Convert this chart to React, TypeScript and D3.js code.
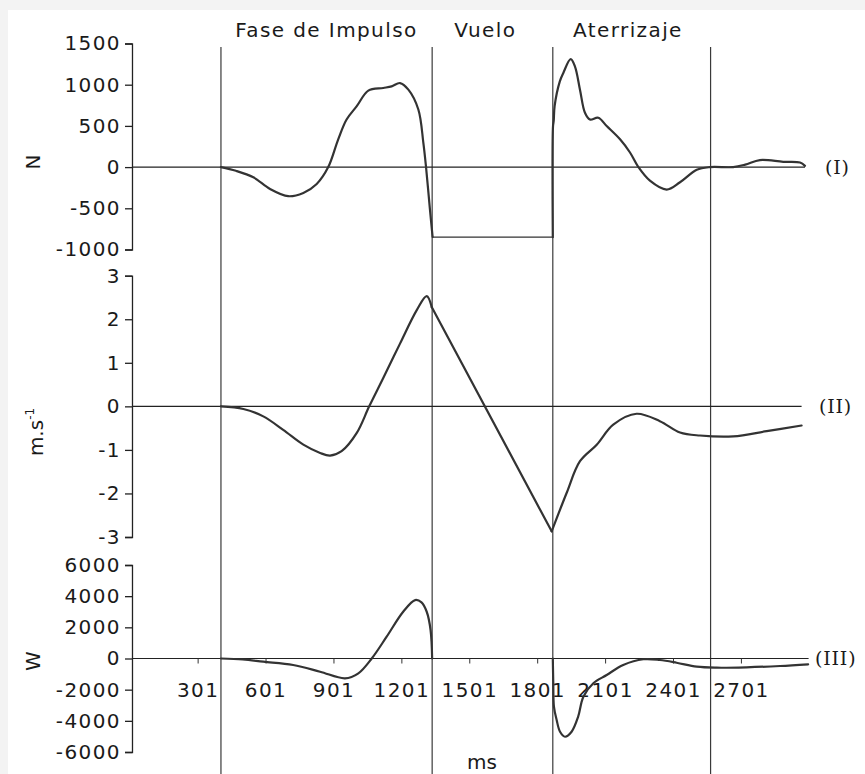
import * as d3 from 'd3';
import React, { useRef, useEffect } from 'react';

// x axis (ms)
const xTicks = [301, 601, 901, 1201, 1501, 1801, 2101, 2401, 2701];
const phaseBounds = [404, 1337, 1870, 2567];
const phaseNames = ['Fase de Impulso', 'Vuelo', 'Aterrizaje'];
const phaseLabelMs = [870, 1572, 2202];

// (I) force, N
const forceTicks = [-1000, -500, 0, 500, 1000, 1500];
const forceImpulseMs = [404, 470, 547, 621, 701, 768, 827, 878, 922, 959, 1004, 1055, 1121, 1158, 1195, 1232, 1276, 1298, 1310, 1327, 1339];
const forceImpulseN = [0, -45, -124, -265, -353, -313, -205, 0, 337, 578, 739, 928, 960, 980, 1020, 940, 699, 298, 0, -506, -847];
const flightMs = [1339, 1870];
const flightN = [-850, -850];
const forceLandingMs = [1870, 1871, 1874, 1878, 1901, 1916, 1949, 1968, 1990, 2012, 2034, 2071, 2108, 2167, 2211, 2248, 2299, 2373, 2432, 2506, 2564, 2667, 2720, 2785, 2888, 2962, 2984];
const forceLandingN = [-850, 500, 560, 740, 1040, 1140, 1310, 1220, 940, 659, 578, 599, 498, 337, 177, 0, -165, -273, -184, -33, 0, 0, 30, 85, 64, 55, 15];

// (II) velocity, m.s-1
const velTicks = [-3, -2, -1, 0, 1, 2, 3];
const velImpulseMs = [404, 503, 591, 679, 768, 842, 886, 937, 1004, 1059, 1121, 1195, 1269, 1313, 1335];
const velImpulse = [0, -0.06, -0.23, -0.54, -0.88, -1.07, -1.13, -1.03, -0.61, 0, 0.65, 1.44, 2.21, 2.53, 2.28];
const velFlightMs = [1335, 1865];
const velFlight = [2.28, -2.87];
const velLandingMs = [1865, 1931, 1990, 2064, 2137, 2240, 2343, 2432, 2520, 2667, 2815, 2969];
const velLanding = [-2.87, -1.99, -1.26, -0.88, -0.42, -0.17, -0.34, -0.6, -0.67, -0.69, -0.57, -0.44];

// (III) power, W
const powTicks = [-6000, -4000, -2000, 0, 2000, 4000, 6000];
const powImpulseMs = [404, 500, 591, 723, 842, 952, 1011, 1070, 1136, 1209, 1262, 1290, 1313, 1330, 1337];
const powImpulse = [0, -60, -205, -417, -847, -1270, -950, 0, 1400, 3000, 3750, 3600, 3000, 1830, 0];
const powLandingMs = [1870, 1872, 1875, 1887, 1902, 1924, 1953, 1982, 2005, 2049, 2108, 2181, 2270, 2343, 2417, 2506, 2594, 2726, 2874, 2998];
const powLanding = [0, -1500, -3090, -3950, -4700, -5020, -4700, -3730, -2450, -1590, -1060, -417, -50, -96, -270, -526, -590, -565, -480, -372];

function App() {
    const ref = useRef<SVGSVGElement>(null);

    useEffect(() => {
        const svg = d3.select(ref.current);
        svg.selectAll('*').remove();

        const W = 865, H = 774;
        svg.append('rect').attr('width', W).attr('height', H).attr('fill', '#f3f3f3');
        svg.append('rect').attr('x', 8).attr('y', 10).attr('width', W - 8).attr('height', H - 10).attr('fill', '#fff');

        const x = d3.scaleLinear().domain([0, 3000]).range([129.5, 808.6]);
        const axisMs = 11;
        const font = 'DejaVu Sans, Verdana, sans-serif';

        const panels = [
            { ticks: forceTicks, range: [249.5, 43.5], end: 2984, title: 'N', titleY: 162, titleX: 40, tag: '(I)', tagX: 825 },
            { ticks: velTicks, range: [537, 275.7], end: 2969, title: 'm.s', titleY: 432, titleX: 43, tag: '(II)', tagX: 819 },
            { ticks: powTicks, range: [752, 565], end: 3000, title: 'W', titleY: 661, titleX: 40, tag: '(III)', tagX: 815 },
        ];
        const ys = panels.map(p => d3.scaleLinear()
            .domain([p.ticks[0], p.ticks[p.ticks.length - 1]])
            .range(p.range));

        // phase lines
        svg.append('g').selectAll('line')
            .data(phaseBounds)
            .enter().append('line')
            .attr('x1', d => x(d)).attr('x2', d => x(d))
            .attr('y1', 47).attr('y2', H)
            .attr('stroke', '#3a3a3a').attr('stroke-width', 1.2);

        svg.append('g').selectAll('text')
            .data(phaseNames)
            .enter().append('text')
            .attr('x', (d, i) => x(phaseLabelMs[i]))
            .attr('y', 36.5)
            .attr('text-anchor', 'middle')
            .attr('font-family', font)
            .attr('font-size', 20)
            .attr('letter-spacing', 1.4)
            .attr('fill', '#1a1a1a')
            .text(d => d);

        panels.forEach((p, i) => {
            const y = ys[i];
            // zero line
            svg.append('line')
                .attr('x1', x(axisMs)).attr('x2', x(p.end))
                .attr('y1', y(0)).attr('y2', y(0))
                .attr('stroke', '#222').attr('stroke-width', 1.2);

            const ax = svg.append('g')
                .attr('transform', 'translate(' + x(axisMs) + ',0)')
                .call(d3.axisLeft(y).tickValues(p.ticks).tickFormat(d => String(d))
                    .tickSize(7).tickSizeOuter(7).tickPadding(4));
            ax.selectAll('path, line').attr('stroke', '#222').attr('stroke-width', 1.3);
            ax.selectAll('text')
                .attr('font-family', font)
                .attr('font-size', 20)
                .attr('letter-spacing', 1.4)
                .attr('fill', '#1a1a1a');
            ax.attr('font-family', null).attr('font-size', null);

            const t = svg.append('text')
                .attr('transform', 'translate(' + p.titleX + ',' + p.titleY + ') rotate(-90)')
                .attr('text-anchor', 'middle')
                .attr('font-family', font)
                .attr('font-size', 20)
                .attr('fill', '#1a1a1a')
                .text(p.title);
            if (i === 1) {
                t.append('tspan').attr('font-size', 12).attr('dy', -9).text('-1');
            }

            svg.append('text')
                .attr('x', p.tagX)
                .attr('y', y(0))
                .attr('dy', '0.35em')
                .attr('font-family', 'DejaVu Serif, serif')
                .attr('font-size', 19)
                .attr('letter-spacing', 0.8)
                .attr('fill', '#1a1a1a')
                .text(p.tag);
        });

        // x axis on the power panel
        const xa = svg.append('g')
            .attr('transform', 'translate(0,' + ys[2](0) + ')')
            .call(d3.axisBottom(x).tickValues(xTicks).tickFormat(d => String(d)).tickSize(5).tickPadding(19));
        xa.select('.domain').remove();
        xa.selectAll('line').attr('stroke', '#333');
        xa.selectAll('text')
            .attr('font-family', font)
            .attr('font-size', 20)
            .attr('letter-spacing', 1.4)
            .attr('fill', '#1a1a1a');

        svg.append('text')
            .attr('x', 482).attr('y', 769)
            .attr('text-anchor', 'middle')
            .attr('font-family', font)
            .attr('font-size', 20)
            .attr('fill', '#1a1a1a')
            .text('ms');

        const smooth = d3.curveCatmullRom.alpha(0.5);
        const series = [
            { ms: forceImpulseMs, v: forceImpulseN, p: 0, w: 2.2, c: smooth },
            { ms: flightMs, v: flightN, p: 0, w: 1.1, c: d3.curveLinear },
            { ms: forceLandingMs, v: forceLandingN, p: 0, w: 2.2, c: smooth },
            { ms: velImpulseMs, v: velImpulse, p: 1, w: 2.2, c: smooth },
            { ms: velFlightMs, v: velFlight, p: 1, w: 2.2, c: d3.curveLinear },
            { ms: velLandingMs, v: velLanding, p: 1, w: 2.2, c: smooth },
            { ms: powImpulseMs, v: powImpulse, p: 2, w: 2.2, c: smooth },
            { ms: powLandingMs, v: powLanding, p: 2, w: 2.2, c: smooth },
        ];
        series.forEach(s => {
            const y = ys[s.p];
            const line = d3.line<number>()
                .x(d => x(s.ms[d]))
                .y(d => y(s.v[d]))
                .curve(s.c);
            svg.append('path')
                .attr('d', line(d3.range(s.ms.length)))
                .attr('fill', 'none')
                .attr('stroke', '#333')
                .attr('stroke-width', s.w)
                .attr('stroke-linejoin', 'round')
                .attr('stroke-linecap', 'round');
        });
    }, []);

    return (
        <svg ref={ref} width={865} height={774}
            style={{ position: 'absolute', left: 0, top: 0, display: 'block' }}>
        </svg>
    );
}

export default App;
